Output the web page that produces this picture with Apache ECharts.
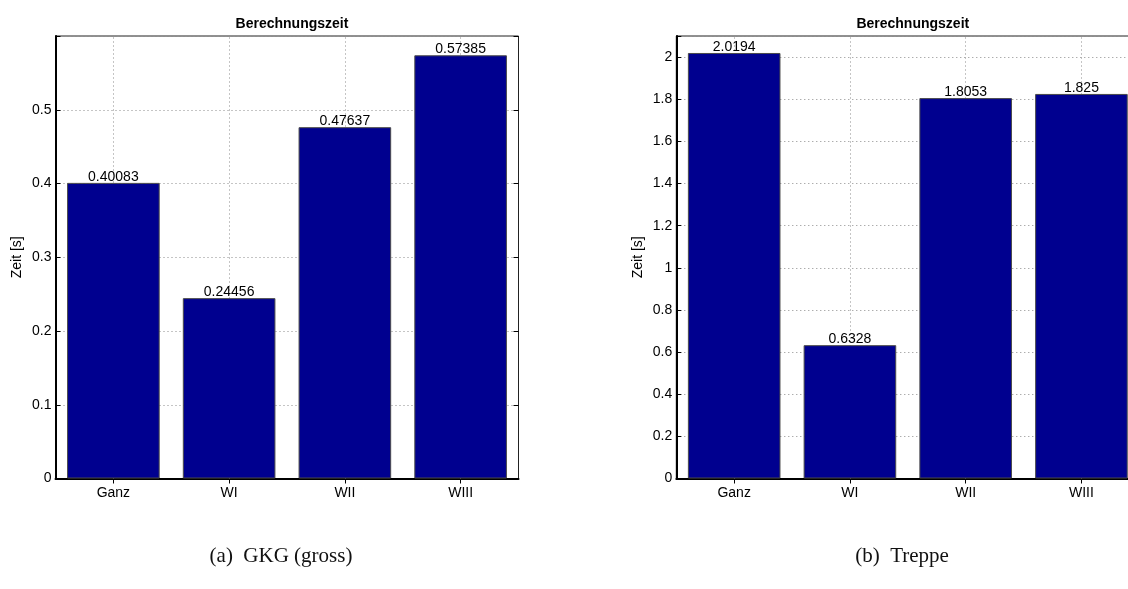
<!DOCTYPE html>
<html>
<head>
<meta charset="utf-8">
<script src="https://cdn.jsdelivr.net/npm/echarts@6/dist/echarts.min.js"></script>
<style>
  html, body { margin: 0; padding: 0; background: #fff; }
  #chart { width: 1128px; height: 589px; }
</style>
</head>
<body>
<div id="chart"></div>
<script>
// Computation times per variant, two test geometries
const categories = ['Ganz', 'WI', 'WII', 'WIII'];
const timesGKG = [0.40083, 0.24456, 0.47637, 0.57385];
const timesTreppe = [2.0194, 0.6328, 1.8053, 1.825];
const chartTitle = 'Berechnungszeit';
const yAxisName = 'Zeit [s]';
const captions = ['(a)  GKG (gross)', '(b)  Treppe'];
const yLimits = [{ max: 0.6, step: 0.1 }, { max: 2.1, step: 0.2 }];

const sans = '"Liberation Sans", Arial, Helvetica, sans-serif';
const serif = '"Liberation Serif", "DejaVu Serif", serif';
const barColor = '#00008F';
const fs = 14;

// second panel runs past the right edge of the page
const grids = [
  { left: 55.5, top: 36, width: 463, height: 442.5 },
  { left: 676.3, top: 36, width: 463, height: 442.5 }
];

const dotted = { show: true, lineStyle: { color: '#8a8a8a', type: [1, 3], width: 1 } };

function fmtTick(limit) {
  return function (v) {
    if (v > limit.max - 1e-9) return '';
    return String(+v.toFixed(4));
  };
}

const option = {
  animation: false,
  backgroundColor: '#fff',
  title: [
    { text: chartTitle, left: grids[0].left + grids[0].width / 2, top: 12, textAlign: 'center',
      textStyle: { fontFamily: sans, fontSize: fs, fontWeight: 'bold', color: '#000' } },
    { text: chartTitle, left: grids[1].left + grids[1].width / 2, top: 12, textAlign: 'center',
      textStyle: { fontFamily: sans, fontSize: fs, fontWeight: 'bold', color: '#000' } },
    { text: captions[0], left: 276, top: 541, textAlign: 'center',
      textStyle: { fontFamily: serif, fontSize: 21, fontWeight: 'normal', color: '#111' } },
    { text: captions[1], left: 897, top: 541, textAlign: 'center',
      textStyle: { fontFamily: serif, fontSize: 21, fontWeight: 'normal', color: '#111' } }
  ],
  grid: grids.map(g => Object.assign({
    show: true, borderColor: '#222', borderWidth: 1, backgroundColor: 'transparent',
    containLabel: false, outerBoundsMode: 'none'
  }, g)),
  xAxis: [],
  yAxis: [],
  series: []
};

[timesGKG, timesTreppe].forEach((vals, i) => {
  const lim = yLimits[i];
  // bottom category axis with labels
  option.xAxis.push({
    type: 'category', gridIndex: i, data: categories, position: 'bottom',
    axisLine: { show: true, lineStyle: { color: '#000', width: 2 } },
    axisTick: { show: true, inside: true, alignWithLabel: true, length: 5, lineStyle: { color: '#000' } },
    axisLabel: { fontFamily: sans, fontSize: fs, color: '#000', margin: 8 },
    splitLine: { show: false }
  });
  // top category axis: ticks only
  option.xAxis.push({
    type: 'category', gridIndex: i, data: categories, position: 'top',
    axisLine: { show: false },
    axisTick: { show: true, inside: true, alignWithLabel: true, length: 5, lineStyle: { color: '#000' } },
    axisLabel: { show: false },
    splitLine: { show: false }
  });
  option.yAxis.push({
    type: 'value', gridIndex: i, min: 0, max: lim.max, interval: lim.step, position: 'left',
    name: yAxisName, nameLocation: 'middle', nameGap: 31, nameRotate: 90,
    nameTextStyle: { fontFamily: sans, fontSize: fs, color: '#000' },
    axisLine: { show: true, lineStyle: { color: '#000', width: 2 } },
    axisTick: { show: true, inside: true, length: 5, lineStyle: { color: '#000' } },
    axisLabel: { fontFamily: sans, fontSize: fs, color: '#000', margin: 4, formatter: fmtTick(lim) },
    splitLine: dotted
  });
  option.yAxis.push({
    type: 'value', gridIndex: i, min: 0, max: lim.max, interval: lim.step, position: 'right',
    axisLine: { show: false },
    axisTick: { show: true, inside: true, length: 5, lineStyle: { color: '#000' } },
    axisLabel: { show: false },
    splitLine: { show: false }
  });
  option.series.push({
    type: 'bar', xAxisIndex: i * 2, yAxisIndex: i * 2, data: vals,
    barCategoryGap: '20%', z: 3,
    itemStyle: { color: barColor, borderColor: '#4a4a4a', borderWidth: 1 },
    label: { show: true, position: 'top', distance: -1, fontFamily: sans, fontSize: fs, color: '#000' },
    markLine: {
      silent: true, symbol: 'none', z: 1, animation: false,
      label: { show: false },
      lineStyle: { color: '#8a8a8a', type: [1, 3], width: 1 },
      data: categories.map(c => ({ xAxis: c }))
    }
  });
});

const chart = echarts.init(document.getElementById('chart'), null, { renderer: 'canvas' });
chart.setOption(option);
</script>
</body>
</html>
